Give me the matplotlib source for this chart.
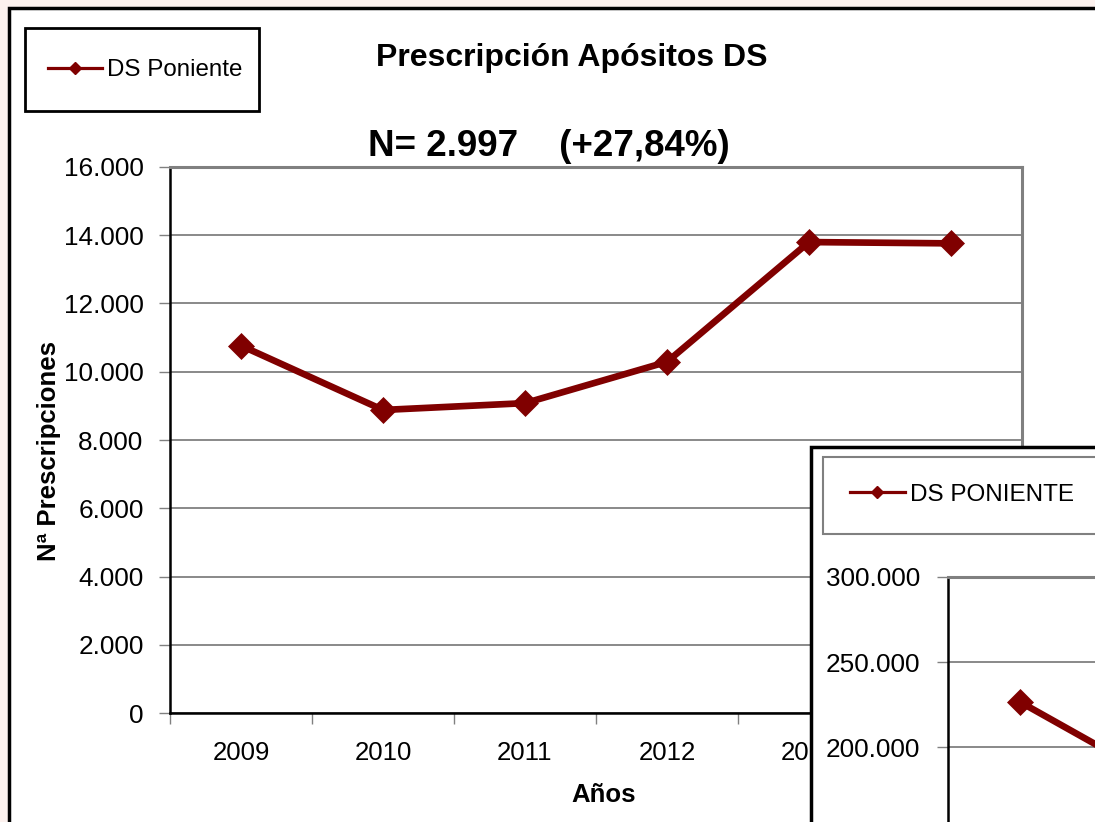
import matplotlib
matplotlib.use("Agg")
import matplotlib.pyplot as plt
from matplotlib.patches import Rectangle
from matplotlib.lines import Line2D
from matplotlib.ticker import FuncFormatter

plt.rcParams["font.family"] = ["Liberation Sans", "DejaVu Sans"]

# data
years = ["2009", "2010", "2011", "2012", "2013", "2014"]
prescripciones = [10765, 8880, 9080, 10290, 13800, 13762]
# second (overlapping) chart, only the first points are visible
inset_years = ["2009", "2010"]
inset_vals = [226500, 179000]

RED = "#800000"
GRID = "#808080"
W, H = 1095, 822

def fx(px): return px / W
def fy(py): return 1 - py / H

def miles(v, _):
    return f"{int(v):,}".replace(",", ".")

fig = plt.figure(figsize=(W / 100, H / 100), dpi=100, facecolor="#fcf1ee")

# outer chart frame
fig.patches.append(Rectangle((fx(9), -0.2), 1.2, fy(8) + 0.2, transform=fig.transFigure,
                             facecolor="white", edgecolor="black", lw=2.5, zorder=0))

# ---- main chart
ax = fig.add_axes([fx(170), fy(713), fx(1022) - fx(170), fy(167) - fy(713)], zorder=1)
x = range(len(years))
ax.plot(x, prescripciones, color=RED, lw=4.8, marker="D", ms=13, mew=0.5, mec=RED,
        solid_joinstyle="round", zorder=3)
ax.set_xlim(-0.5, len(years) - 0.5)
ax.set_ylim(0, 16000)
ax.set_yticks(range(0, 16001, 2000))
ax.yaxis.set_major_formatter(FuncFormatter(miles))
ax.set_xticks(list(x))
ax.set_xticklabels(years)
ax.set_xticks([i - 0.5 for i in range(len(years) + 1)], minor=True)
ax.tick_params(axis="x", which="major", length=0, pad=20, labelsize=18.5)
ax.tick_params(axis="x", which="minor", length=8, width=1, color=GRID, direction="out")
ax.tick_params(axis="y", length=8, width=1, color=GRID, direction="out", pad=11, labelsize=18.8)
ax.grid(axis="y", color=GRID, lw=1.3)
ax.set_axisbelow(True)
for s in ["left", "bottom"]:
    ax.spines[s].set_color("black"); ax.spines[s].set_linewidth(1.8)
for s in ["top", "right"]:
    ax.spines[s].set_color(GRID); ax.spines[s].set_linewidth(2.2)
ax.set_ylabel("Nª Prescripciones", fontsize=18.5, fontweight="bold")
ax.yaxis.set_label_coords(-0.128, 0.48)
ax.set_xlabel("Años", fontsize=18.5, fontweight="bold")
ax.xaxis.set_label_coords(0.509, -0.128)

fig.text(fx(572), fy(58), "Prescripción Apósitos DS", fontsize=23, fontweight="bold",
         ha="center", va="center")
fig.text(fx(549), fy(146), "N= 2.997    (+27,84%)", fontsize=26.5, fontweight="bold",
         ha="center", va="center")

# main legend
fig.patches.append(Rectangle((fx(25), fy(111)), fx(259) - fx(25), fy(28) - fy(111),
                             transform=fig.transFigure, facecolor="white",
                             edgecolor="black", lw=2, zorder=1.5))
h1 = Line2D([], [], color=RED, lw=2.3, marker="D", ms=6.5, mec=RED)
fig.legend([h1], ["DS Poniente"], loc="center left", bbox_to_anchor=(fx(48), fy(70)),
           frameon=False, fontsize=17.4, handlelength=2.25, handletextpad=0.2,
           borderpad=0, borderaxespad=0)

# ---- overlapping second chart (bottom right)
fig.patches.append(Rectangle((fx(811), -0.2), 1.2, fy(447) + 0.2, transform=fig.transFigure,
                             facecolor="white", edgecolor="black", lw=2.5, zorder=2))
fig.patches.append(Rectangle((fx(823), fy(534)), 1.2, fy(457) - fy(534),
                             transform=fig.transFigure, facecolor="white",
                             edgecolor=GRID, lw=1.5, zorder=3))
h2 = Line2D([], [], color=RED, lw=2.3, marker="D", ms=6.5, mec=RED)
fig.legend([h2], ["DS PONIENTE"], loc="center left", bbox_to_anchor=(fx(850), fy(495)),
           frameon=False, fontsize=17.5, handlelength=2.25, handletextpad=0.2,
           borderpad=0, borderaxespad=0)

n_in = 6
ax2 = fig.add_axes([fx(948), fy(577 + 6 * 85), fx(144 * n_in), fy(577) - fy(577 + 6 * 85)],
                   zorder=4)
ax2.plot(range(len(inset_vals)), inset_vals, color=RED, lw=4.8, marker="D", ms=13,
         mew=0.5, mec=RED, zorder=3)
ax2.set_xlim(-0.5, n_in - 0.5)
ax2.set_ylim(0, 300000)
ax2.set_yticks(range(0, 300001, 50000))
ax2.yaxis.set_major_formatter(FuncFormatter(miles))
ax2.set_xticks(range(len(inset_years)))
ax2.set_xticklabels(inset_years)
ax2.tick_params(axis="y", length=8, width=1, color=GRID, direction="out", pad=12, labelsize=18.8)
ax2.tick_params(axis="x", length=0, labelsize=18.5)
ax2.grid(axis="y", color=GRID, lw=1.3)
ax2.set_axisbelow(True)
ax2.spines["left"].set_color("black"); ax2.spines["left"].set_linewidth(1.8)
ax2.spines["top"].set_color(GRID); ax2.spines["top"].set_linewidth(2.2)

fig.savefig("out.png", dpi=100, facecolor=fig.get_facecolor())
